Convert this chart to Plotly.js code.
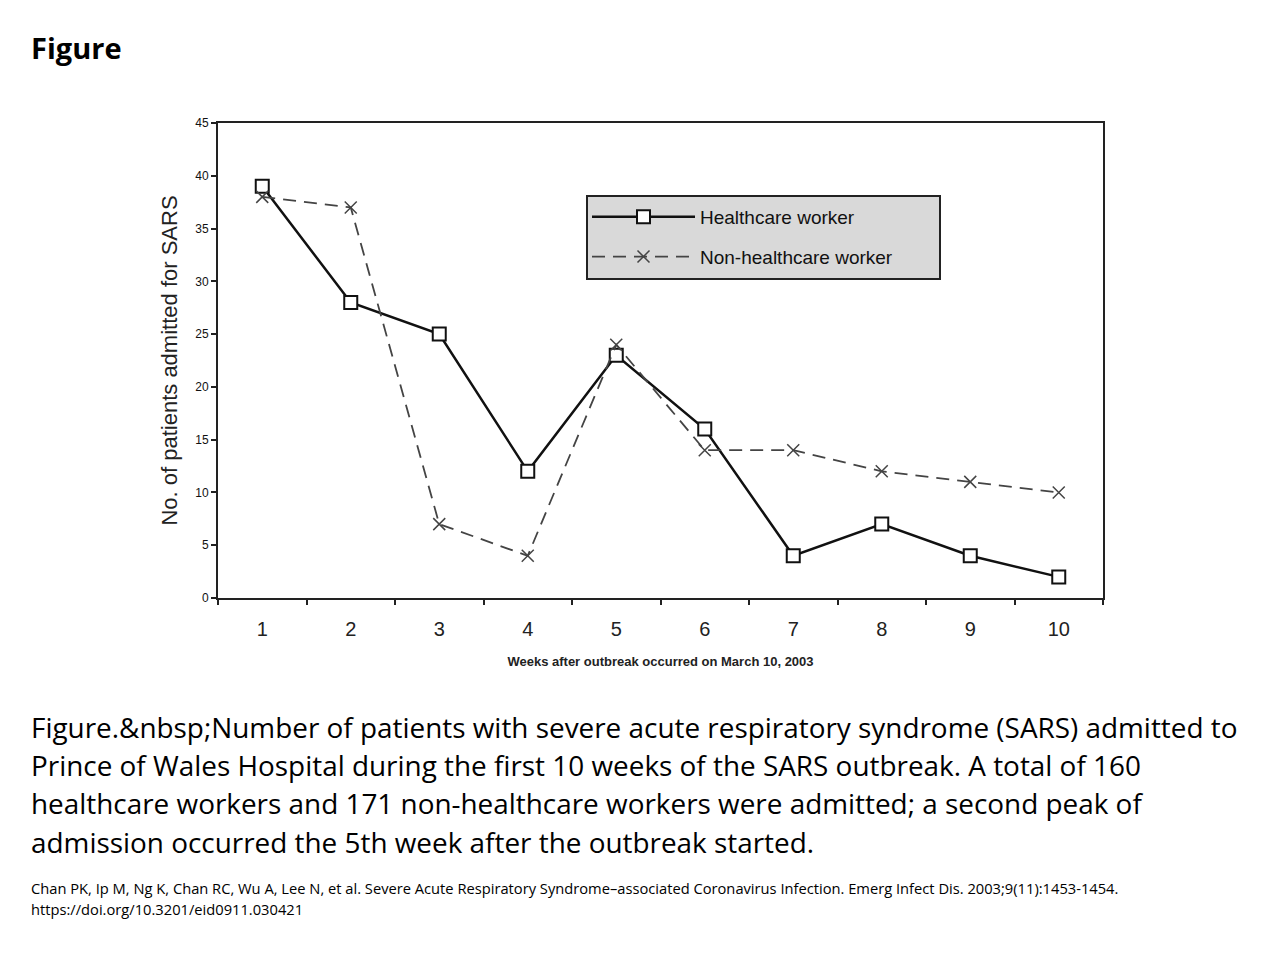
<!DOCTYPE html>
<html>
<head>
<meta charset="utf-8">
<script src="https://cdn.plot.ly/plotly-3.0.1.min.js"></script>
<style>
html,body{margin:0;padding:0;background:#fff;}
#chart{width:1280px;height:960px;}
</style>
</head>
<body>
<div id="chart"></div>
<script>
const weeks = ['1','2','3','4','5','6','7','8','9','10'];
const healthcareWorkers = [39, 28, 25, 12, 23, 16, 4, 7, 4, 2];
const nonHealthcareWorkers = [38, 37, 7, 4, 24, 14, 14, 12, 11, 10];
const yTicks = [0, 5, 10, 15, 20, 25, 30, 35, 40, 45];

const captionLines = [
  'Figure.&amp;nbsp;Number of patients with severe acute respiratory syndrome (SARS) admitted to',
  'Prince of Wales Hospital during the first 10 weeks of the SARS outbreak. A total of 160',
  'healthcare workers and 171 non-healthcare workers were admitted; a second peak of',
  'admission occurred the 5th week after the outbreak started.'
];
const refLines = [
  'Chan PK, Ip M, Ng K, Chan RC, Wu A, Lee N, et al. Severe Acute Respiratory Syndrome\u2013associated Coronavirus Infection. Emerg Infect Dis. 2003;9(11):1453-1454.',
  'https://doi.org/10.3201/eid0911.030421'
];

// plot area in pixels
const L = 218, R = 1103, T = 123, B = 598;
const px = x => (x - L) / (R - L);
const py = y => (B - y) / (B - T);

const FONT_TXT = '"Open Sans", "Noto Sans", sans-serif';
const FONT_AX = 'Arial, "Liberation Sans", sans-serif';

const traces = [
  {
    x: weeks, y: healthcareWorkers, name: 'Healthcare worker',
    type: 'scatter', mode: 'lines+markers', legendgroup: 'hc',
    line: {color: '#111', width: 2.5},
    marker: {symbol: 'square', size: 13, color: '#fff', line: {width: 2, color: '#111'}}
  },
  {
    x: weeks, y: nonHealthcareWorkers, name: 'Non-healthcare worker',
    type: 'scatter', mode: 'lines+markers', legendgroup: 'nhc',
    line: {color: '#444', width: 1.8, dash: '13px,8px'},
    marker: {symbol: 'x-thin-open', size: 12, color: '#444', line: {width: 1.5, color: '#444'}}
  }
];

const annotations = [];
annotations.push({
  text: '<b>Figure</b>', xref: 'paper', yref: 'paper', x: px(29), y: py(47),
  xanchor: 'left', yanchor: 'middle', showarrow: false,
  font: {family: FONT_TXT, size: 29, color: '#000'}
});
const capY = [727, 765, 803, 842];
captionLines.forEach((t, i) => annotations.push({
  text: t, xref: 'paper', yref: 'paper', x: px(29), y: py(capY[i]),
  xanchor: 'left', yanchor: 'middle', showarrow: false,
  font: {family: FONT_TXT, size: 27.9, color: '#000'}
}));
const refY = [888, 909];
refLines.forEach((t, i) => annotations.push({
  text: t, xref: 'paper', yref: 'paper', x: px(29), y: py(refY[i]),
  xanchor: 'left', yanchor: 'middle', showarrow: false,
  font: {family: FONT_TXT, size: 14.7, color: '#000'}
}));

const layout = {
  width: 1280, height: 960,
  margin: {l: L, r: 1280 - R, t: T, b: 960 - B},
  paper_bgcolor: '#fff', plot_bgcolor: '#fff',
  showlegend: true,
  shapes: [{
    type: 'rect', xref: 'paper', yref: 'paper', layer: 'above',
    x0: px(587), x1: px(940), y0: py(279), y1: py(196),
    fillcolor: '#d9d9d9', line: {color: '#222', width: 2}
  }],
  legend: {
    x: px(587), y: py(198), xanchor: 'left', yanchor: 'top',
    bgcolor: 'rgba(0,0,0,0)', borderwidth: 0,
    font: {family: FONT_AX, size: 19, color: '#111'},
    tracegroupgap: 12, itemwidth: 103,
    traceorder: 'grouped'
  },
  xaxis: {
    type: 'category', range: [-0.5, 9.5],
    tickson: 'boundaries', ticks: 'outside', ticklen: 5, tickwidth: 2, tickcolor: '#222',
    showline: true, linecolor: '#222', linewidth: 2, mirror: true,
    showgrid: false, zeroline: false, ticklabelstandoff: 12,
    tickfont: {family: FONT_AX, size: 20, color: '#222'},
    title: {text: '<b>Weeks after outbreak occurred on March 10, 2003</b>',
            font: {family: FONT_AX, size: 13, color: '#222'}, standoff: 18},
    fixedrange: true
  },
  yaxis: {
    range: [0, 45], tickvals: yTicks, ticktext: yTicks.map(String),
    ticks: 'outside', ticklen: 5, tickwidth: 2, tickcolor: '#222',
    showline: true, linecolor: '#222', linewidth: 2, mirror: true,
    showgrid: false, zeroline: false,
    tickfont: {family: FONT_AX, size: 12, color: '#111'},
    title: {text: 'No. of patients admitted for SARS',
            font: {family: FONT_AX, size: 22, color: '#222'}, standoff: 12},
    fixedrange: true
  },
  annotations: annotations
};

Plotly.newPlot('chart', traces, layout, {displayModeBar: false, staticPlot: true});
</script>
</body>
</html>
